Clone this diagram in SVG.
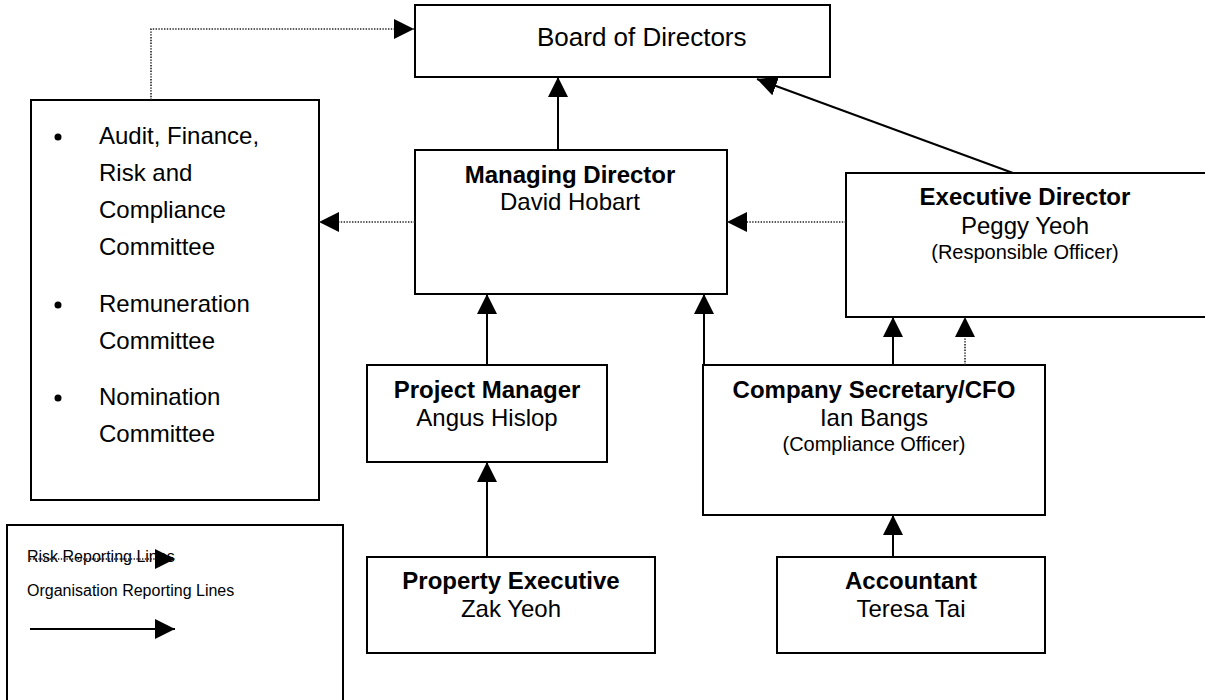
<svg xmlns="http://www.w3.org/2000/svg" width="1205" height="700" viewBox="0 0 1205 700">
<style>
.box{fill:#fff;stroke:#000;stroke-width:2}
.t{font-family:"Liberation Sans",Arial,sans-serif;font-size:24px;fill:#000}
.b{font-weight:bold}
.c{text-anchor:middle}
.s{font-size:20px}
.lg{font-size:16px}
.ln{fill:none;stroke:#000;stroke-width:2}
.dot{fill:none;stroke:#222;stroke-width:1.6;stroke-dasharray:1.4 1.4}
</style>
<defs>
<marker id="ah" markerUnits="userSpaceOnUse" markerWidth="21" markerHeight="20" refX="20" refY="10" orient="auto" viewBox="0 0 21 20">
<path d="M0,0 L20,10 L0,20 z" fill="#000"/>
</marker>
</defs>
<rect width="1205" height="700" fill="#fff"/>
<g id="board"><rect class="box" x="415" y="5" width="415" height="72"/><text class="t" x="537" y="46" style="font-size:26px">Board of Directors</text></g>
<g id="committees"><rect class="box" x="31" y="100" width="288" height="400"/>
<circle cx="58" cy="137" r="3.5"/><circle cx="58" cy="305" r="3.5"/><circle cx="58" cy="398" r="3.5"/>
<text class="t" x="99" y="144">Audit, Finance,</text>
<text class="t" x="99" y="181">Risk and</text>
<text class="t" x="99" y="218">Compliance</text>
<text class="t" x="99" y="255">Committee</text>
<text class="t" x="99" y="312">Remuneration</text>
<text class="t" x="99" y="349">Committee</text>
<text class="t" x="99" y="405">Nomination</text>
<text class="t" x="99" y="442">Committee</text>
</g>
<g id="md"><rect class="box" x="415" y="150" width="312" height="144"/><text class="t c b" x="570" y="183">Managing Director</text><text class="t c" x="570" y="210">David Hobart</text></g>
<g id="exec"><rect class="box" x="846" y="173" width="362" height="144"/><text class="t c b" x="1025" y="205">Executive Director</text><text class="t c" x="1025" y="234">Peggy Yeoh</text><text class="t c s" x="1025" y="259">(Responsible Officer)</text></g>
<g id="pm"><rect class="box" x="367" y="365" width="240" height="97"/><text class="t c b" x="487" y="398">Project Manager</text><text class="t c" x="487" y="426">Angus Hislop</text></g>
<g id="cs"><rect class="box" x="703" y="365" width="342" height="150"/><text class="t c b" x="874" y="398">Company Secretary/CFO</text><text class="t c" x="874" y="426">Ian Bangs</text><text class="t c s" x="874" y="451">(Compliance Officer)</text></g>
<g id="pe"><rect class="box" x="367" y="557" width="288" height="96"/><text class="t c b" x="511" y="589">Property Executive</text><text class="t c" x="511" y="617">Zak Yeoh</text></g>
<g id="acc"><rect class="box" x="777" y="557" width="268" height="96"/><text class="t c b" x="911" y="589">Accountant</text><text class="t c" x="911" y="617">Teresa Tai</text></g>
<g id="legend"><rect class="box" x="7" y="525" width="336" height="190"/>
<text class="t lg" x="27" y="562">Risk Reporting Lines</text>
<line class="dot" x1="30" y1="559" x2="175" y2="559" marker-end="url(#ah)"/>
<text class="t lg" x="27" y="596">Organisation Reporting Lines</text>
<line class="ln" x1="30" y1="629" x2="175" y2="629" marker-end="url(#ah)"/>
</g>
<g id="connectors">
<line class="ln" x1="558" y1="150" x2="558" y2="77" marker-end="url(#ah)"/>
<line class="ln" x1="1013" y1="173" x2="757" y2="79" marker-end="url(#ah)"/>
<line class="ln" x1="487" y1="365" x2="487" y2="294" marker-end="url(#ah)"/>
<line class="ln" x1="704" y1="365" x2="704" y2="294" marker-end="url(#ah)"/>
<line class="ln" x1="893" y1="365" x2="893" y2="317" marker-end="url(#ah)"/>
<line class="dot" x1="965" y1="365" x2="965" y2="317" marker-end="url(#ah)"/>
<line class="ln" x1="487" y1="557" x2="487" y2="462" marker-end="url(#ah)"/>
<line class="ln" x1="893" y1="557" x2="893" y2="515" marker-end="url(#ah)"/>
<line class="dot" x1="415" y1="222" x2="319" y2="222" marker-end="url(#ah)"/>
<line class="dot" x1="846" y1="222" x2="727" y2="222" marker-end="url(#ah)"/>
<polyline class="dot" points="151,100 151,29 414,29" marker-end="url(#ah)"/>
</g>
</svg>
